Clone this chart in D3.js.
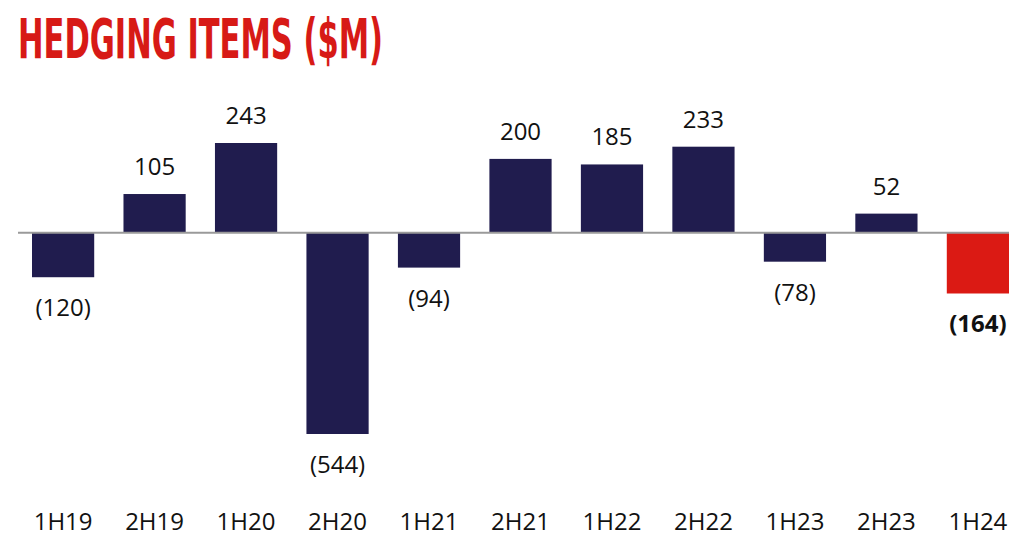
<!DOCTYPE html>
<html lang="en">
<head>
<meta charset="UTF-8">
<title>Hedging items</title>
<script src="https://cdn.jsdelivr.net/npm/d3@7"></script>
<style>
  body { margin: 0; background: #fff; }
  .title { font-family: "DejaVu Sans Condensed", "DejaVu Sans", sans-serif; font-weight: bold; fill: #d71a16; }
  .lbl { font-family: "Open Sans", "Noto Sans", sans-serif; font-size: 24px; fill: #111; }
</style>
</head>
<body>
<svg id="main" width="1009" height="536"></svg>
<script>
var categories = ["1H19", "2H19", "1H20", "2H20", "1H21", "2H21", "1H22", "2H22", "1H23", "2H23", "1H24"];
var values = [-120, 105, 243, -544, -94, 200, 185, 233, -78, 52, -164];
var highlight = ["1H24"];

var svg = d3.select("#main");

var x = d3.scaleBand()
    .domain(categories)
    .range([32, 1009])
    .paddingInner(0.32)
    .paddingOuter(0);

var y = d3.scaleLinear()
    .domain([-544, 243])
    .range([434, 143]);

svg.append("text")
    .attr("class", "title")
    .attr("x", 18)
    .attr("y", 58)
    .attr("font-size", 56)
    .attr("textLength", 365)
    .attr("lengthAdjust", "spacingAndGlyphs")
    .text("HEDGING ITEMS ($M)");

var data = categories.map(function(c, i) { return {cat: c, v: values[i]}; });

svg.selectAll(".bar")
    .data(data)
    .enter().append("rect")
    .attr("class", "bar")
    .attr("x", function(d) { return x(d.cat); })
    .attr("width", x.bandwidth())
    .attr("y", function(d) { return d.v > 0 ? y(d.v) : y(0); })
    .attr("height", function(d) { return Math.abs(y(d.v) - y(0)); })
    .attr("fill", function(d) { return highlight.indexOf(d.cat) >= 0 ? "#db1a14" : "#201c4e"; });

svg.append("line")
    .attr("x1", 18).attr("x2", 1009)
    .attr("y1", y(0)).attr("y2", y(0))
    .attr("stroke", "#9a9a9a")
    .attr("stroke-width", 2);

svg.selectAll(".val")
    .data(data)
    .enter().append("text")
    .attr("class", "lbl")
    .attr("x", function(d) { return x(d.cat) + x.bandwidth() / 2; })
    .attr("y", function(d) { return d.v > 0 ? y(d.v) - 19 : y(d.v) + 39; })
    .attr("text-anchor", "middle")
    .style("font-weight", function(d) { return highlight.indexOf(d.cat) >= 0 ? "bold" : "normal"; })
    .text(function(d) { return d.v < 0 ? "(" + (-d.v) + ")" : d.v; });

svg.append("g")
    .attr("transform", "translate(0,530)")
    .call(d3.axisBottom(x).tickSize(0).tickPadding(0))
    .call(function(g) { g.select(".domain").remove(); })
    .selectAll("text")
    .attr("class", "lbl")
    .attr("dy", 0)
    .attr("y", 0);
</script>
</body>
</html>
